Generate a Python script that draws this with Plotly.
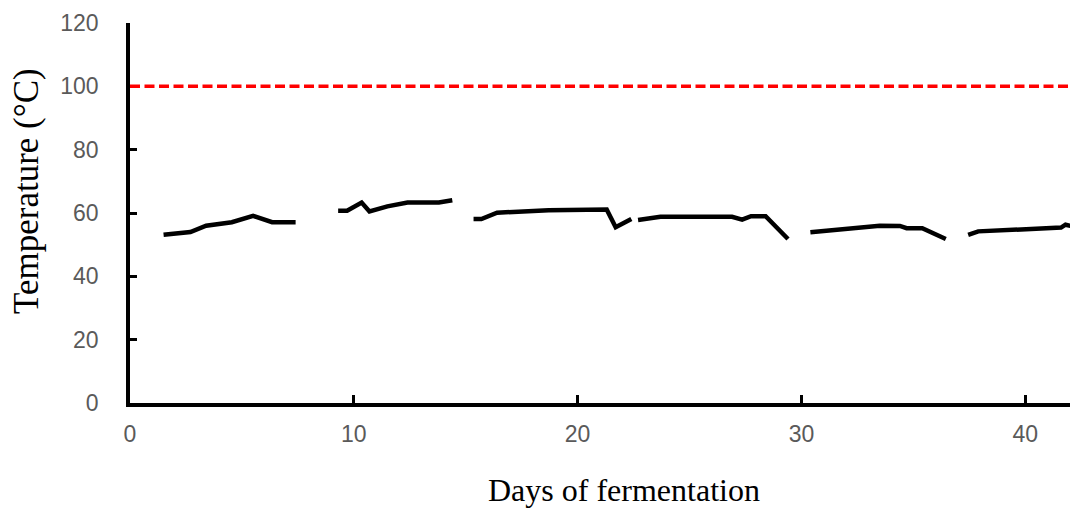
import plotly.graph_objects as go

# Compost temperature logged during fermentation; None marks breaks between runs
days = [
    1.5, 2.7, 3.4, 3.8, 4.55, 5.5, 6.35, 7.4, None,
    9.3, 9.7, 10.35, 10.7, 11.5, 12.4, 13.8, 14.4, None,
    15.35, 15.7, 16.4, 18.7, 21.3, 21.7, 22.4, None,
    22.7, 23.7, 26.9, 27.35, 27.75, 28.4, 29.4, None,
    30.4, 33.5, 34.4, 34.7, 35.4, 36.45, None,
    37.45, 37.9, 41.6, 41.8, 42.1,
]
temps = [
    53.1, 54.0, 56.0, 56.3, 57.1, 59.1, 57.1, 57.1, None,
    60.7, 60.7, 63.3, 60.5, 62.1, 63.3, 63.3, 64.0, None,
    58.1, 58.1, 60.1, 60.9, 61.1, 55.5, 58.1, None,
    57.8, 58.8, 58.8, 57.9, 59.0, 59.0, 51.8, None,
    53.9, 56.0, 55.9, 55.2, 55.2, 51.8, None,
    53.1, 54.2, 55.4, 56.3, 55.8,
]

boiling_point = 100
x_ticks = [0, 10, 20, 30, 40]
y_ticks = [0, 20, 40, 60, 80, 100, 120]

fig = go.Figure()
fig.add_trace(go.Scatter(
    x=days, y=temps, mode="lines", connectgaps=False,
    line=dict(color="black", width=4.5),
    showlegend=False, hoverinfo="skip",
))
fig.add_hline(y=boiling_point, line=dict(color="#ff0000", width=3.5, dash="10px,4.5px"))

tick_font = dict(family="Liberation Sans, Arial, sans-serif", size=23, color="#5a5a5a")

fig.update_layout(
    width=1070, height=510,
    margin=dict(l=130, r=0, t=23, b=107),
    paper_bgcolor="white", plot_bgcolor="white",
    xaxis=dict(
        range=[0, 42], tickvals=x_ticks, showgrid=False, zeroline=False,
        showline=True, linecolor="black", linewidth=3.5,
        ticks="inside", ticklen=8, tickwidth=2.5, tickcolor="black",
        tickfont=tick_font, ticklabelstandoff=8,
    ),
    yaxis=dict(
        range=[0, 120], tickvals=y_ticks, showgrid=False, zeroline=False,
        showline=True, linecolor="black", linewidth=3.5,
        ticks="inside", ticklen=7, tickwidth=2.5, tickcolor="black",
        tickfont=tick_font, ticklabelstandoff=23,
    ),
    annotations=[
        dict(text="Days of fermentation", xref="paper", yref="paper",
             x=(624 - 130) / 940, y=-(490 - 403) / 380, showarrow=False,
             xanchor="center", yanchor="middle",
             font=dict(family="Liberation Serif, Times New Roman, serif", size=32, color="black")),
        dict(text="Temperature (°C)", xref="paper", yref="paper",
             x=(26 - 130) / 940, y=(403 - 191) / 380, showarrow=False, textangle=-90,
             xanchor="center", yanchor="middle",
             font=dict(family="Liberation Serif, Times New Roman, serif", size=35, color="black")),
    ],
)

fig.write_html("out.html")
